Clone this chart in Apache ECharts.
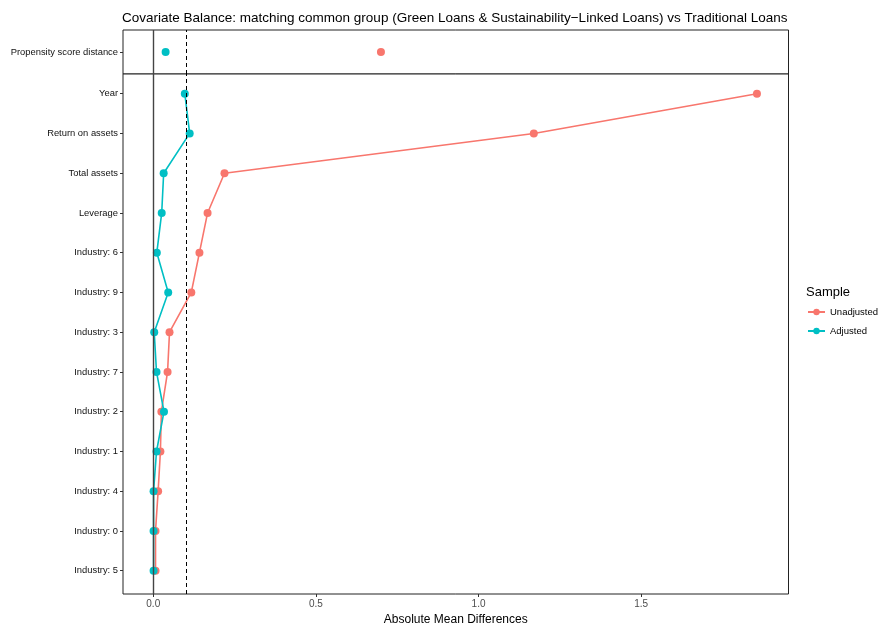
<!DOCTYPE html>
<html>
<head>
<meta charset="utf-8">
<script src="https://cdn.jsdelivr.net/npm/echarts@6/dist/echarts.min.js"></script>
<style>html,body{margin:0;padding:0;background:#fff}#c{width:878px;height:624px}</style>
</head>
<body>
<div id="c"></div>
<script>
const covariates = ['Year','Return on assets','Total assets','Leverage','Industry: 6','Industry: 9','Industry: 3','Industry: 7','Industry: 2','Industry: 1','Industry: 4','Industry: 0','Industry: 5'];
const unadjusted = [1.856,1.17,0.219,0.167,0.142,0.117,0.050,0.044,0.025,0.022,0.015,0.007,0.007];
const adjusted   = [0.097,0.112,0.032,0.026,0.011,0.046,0.003,0.010,0.033,0.010,0.001,0.001,0.001];
const distanceLabel = ['Propensity score distance'];
const distanceUnadj = [0.70];
const distanceAdj = [0.038];
const xTicks = [0, 0.5, 1, 1.5];
const refLines = [0, 0.1];

const N = covariates.length;
const yPos = covariates.map((c, i) => N - i);
const FONT = 'Liberation Sans, Arial, sans-serif';
const RED = '#F8766D', TEAL = '#00BFC4';
const XMIN = -0.093, XMAX = 1.953;

const chart = echarts.init(document.getElementById('c'), null, {renderer: 'canvas'});

function xAxisCfg(idx, showLabels) {
  return {
    type: 'value', gridIndex: idx, min: XMIN, max: XMAX,
    axisLine: {show: false, onZero: false},
    splitLine: {show: false},
    axisTick: {show: showLabels, length: 3, lineStyle: {color: '#333'}, customValues: xTicks},
    axisLabel: {show: showLabels, customValues: xTicks, color: '#4D4D4D', fontSize: 10, fontFamily: FONT, margin: 5,
      formatter: v => v.toFixed(1)},
    name: showLabels ? 'Absolute Mean Differences' : '',
    nameLocation: 'middle', nameGap: 16,
    nameTextStyle: {color: '#000', fontSize: 12, fontFamily: FONT}
  };
}

const refMark = {
  silent: true, symbol: 'none', label: {show: false},
  data: [
    {xAxis: refLines[0], lineStyle: {color: '#444', type: 'solid', width: 1.4}},
    {xAxis: refLines[1], lineStyle: {color: '#000', type: [4, 3], width: 1}}
  ]
};

const option = {
  animation: false,
  backgroundColor: '#fff',
  title: [
    {text: 'Covariate Balance: matching common group (Green Loans & Sustainability\u2212Linked Loans) vs Traditional Loans',
     left: 122, top: 11, padding: 0, textStyle: {fontSize: 13.5, fontWeight: 'normal', color: '#000', fontFamily: FONT}},
    {text: 'Sample', left: 806, top: 286, padding: 0, textStyle: {fontSize: 13, fontWeight: 'normal', color: '#000', fontFamily: FONT}}
  ],
  legend: {
    orient: 'vertical', left: 807, top: 307, padding: 0, itemWidth: 17, itemHeight: 8, itemGap: 9,
    data: ['Unadjusted', 'Adjusted'],
    textStyle: {fontSize: 9.5, color: '#000', fontFamily: FONT}
  },
  grid: [
    {left: 123, right: 89.5, top: 30, height: 44, show: true, borderColor: '#222', borderWidth: 1, backgroundColor: '#fff', outerBoundsMode: 'none', containLabel: false},
    {left: 123, right: 89.5, top: 74, height: 520, show: true, borderColor: '#222', borderWidth: 1, backgroundColor: '#fff', outerBoundsMode: 'none', containLabel: false}
  ],
  xAxis: [xAxisCfg(0, false), xAxisCfg(1, true)],
  yAxis: [
    {type: 'category', gridIndex: 0, data: distanceLabel,
     axisLine: {show: false, onZero: false}, axisTick: {show: true, length: 3, alignWithLabel: true, lineStyle: {color: '#333'}},
     axisLabel: {color: '#111', fontSize: 9.4, fontFamily: FONT, margin: 5}},
    {type: 'value', gridIndex: 1, min: 0.415, max: 13.495,
     axisLine: {show: false, onZero: false}, splitLine: {show: false},
     axisTick: {show: true, length: 3, customValues: yPos, lineStyle: {color: '#333'}},
     axisLabel: {customValues: yPos, color: '#111', fontSize: 9.4, fontFamily: FONT, margin: 5,
       formatter: v => covariates[N - Math.round(v)]}}
  ],
  series: [
    {type: 'line', name: 'ref0', xAxisIndex: 0, yAxisIndex: 0, data: [], z: 1, markLine: refMark},
    {type: 'line', name: 'ref1', xAxisIndex: 1, yAxisIndex: 1, data: [], z: 1, markLine: refMark},
    {type: 'line', name: 'Unadjusted', xAxisIndex: 0, yAxisIndex: 0, z: 3,
     data: distanceUnadj.map((v, i) => [v, distanceLabel[i]]),
     symbol: 'circle', symbolSize: 8, itemStyle: {color: RED}, lineStyle: {color: RED, width: 1.6}},
    {type: 'line', name: 'Adjusted', xAxisIndex: 0, yAxisIndex: 0, z: 4,
     data: distanceAdj.map((v, i) => [v, distanceLabel[i]]),
     symbol: 'circle', symbolSize: 8, itemStyle: {color: TEAL}, lineStyle: {color: TEAL, width: 1.6}},
    {type: 'line', name: 'Unadjusted', xAxisIndex: 1, yAxisIndex: 1, z: 3,
     data: unadjusted.map((v, i) => [v, yPos[i]]),
     symbol: 'circle', symbolSize: 8, itemStyle: {color: RED}, lineStyle: {color: RED, width: 1.6}},
    {type: 'line', name: 'Adjusted', xAxisIndex: 1, yAxisIndex: 1, z: 4,
     data: adjusted.map((v, i) => [v, yPos[i]]),
     symbol: 'circle', symbolSize: 8, itemStyle: {color: TEAL}, lineStyle: {color: TEAL, width: 1.6}}
  ]
};
chart.setOption(option);
</script>
</body>
</html>
